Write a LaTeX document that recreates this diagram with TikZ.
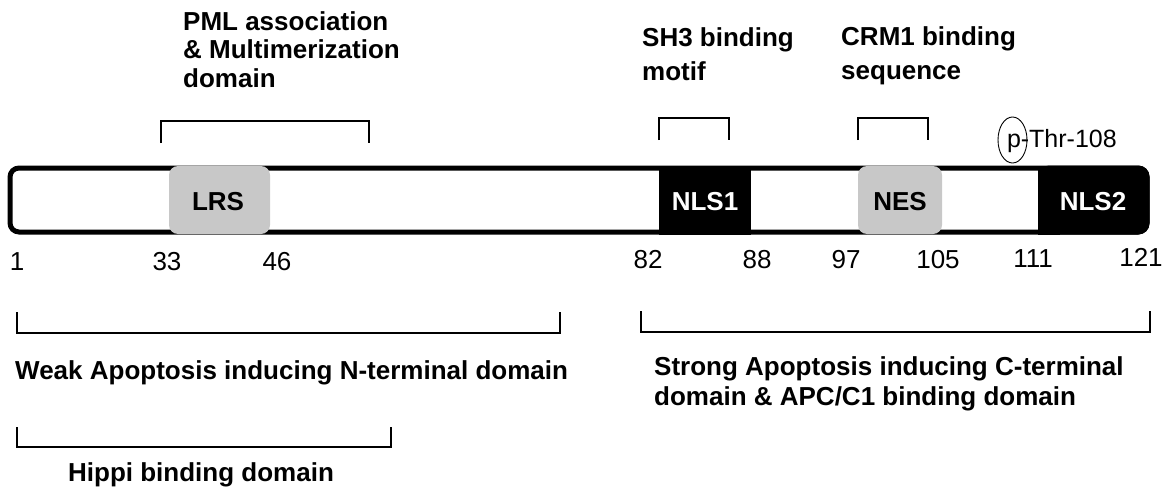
\documentclass[tikz,border=0pt]{standalone}
\usepackage{fontspec}
\setmainfont{Liberation Sans}
\usetikzlibrary{shapes.geometric}
\definecolor{boxgray}{HTML}{C8C8C8}
\tikzset{
  lbl/.style={font=\fontsize{26}{29}\selectfont\bfseries, inner sep=0pt},
  lblwide/.style={font=\fontsize{26}{34}\selectfont\bfseries, inner sep=0pt},
  lblmid/.style={font=\fontsize{26}{30}\selectfont\bfseries, inner sep=0pt},
  num/.style={font=\fontsize{26}{30}\selectfont, inner sep=0pt, anchor=base},
  thrtxt/.style={font=\fontsize{25}{30}\selectfont, inner sep=0pt},
  brk/.style={line width=1.8pt},
  dom/.style={font=\fontsize{26}{30}\selectfont\bfseries, inner sep=0pt, anchor=base},
}
\begin{document}
\begin{tikzpicture}[x=1pt,y=-1pt]
\useasboundingbox (0,0) rectangle (1170,495);
% top labels (base anchor = baseline of the last line)
\node[lbl, anchor=base west, align=left] (pml) at (183,88) {PML association\\\& Multimerization\\domain};
\node[lblwide, anchor=base west, align=left] (sh3) at (642,81) {SH3 binding\\motif};
\node[lblwide, anchor=base west, align=left] (crm) at (841,80) {CRM1 binding\\sequence};
% top brackets
\draw[brk] (161,143) -- (161,121) -- (369,121) -- (369,143);
\draw[brk] (659,140) -- (659,118) -- (729,118) -- (729,140);
\draw[brk] (858,140) -- (858,118) -- (928,118) -- (928,140);
% bar
\draw[line width=5pt, rounded corners=9pt, fill=white] (10,168) rectangle (1147,232);
% domains
\fill[boxgray, rounded corners=9pt] (169,166) rectangle (270,234);
\node[dom] (lrs) at (218,210) {LRS};
\fill[black] (659,165.5) rectangle (751,234.5);
\node[dom, text=white] (nls1) at (705,210) {NLS1};
\fill[boxgray, rounded corners=9pt] (858,166) rectangle (942,234);
\node[dom] (nes) at (900,210) {NES};
\fill[black, rounded corners=11pt] (1038,165.5) rectangle (1149.5,234.5);
\fill[black] (1038,165.5) rectangle (1060,234.5);
\node[dom, text=white] (nls2) at (1093,210) {NLS2};
% phospho
\draw[line width=0.9pt] (1012.5,140) ellipse [x radius=14.5, y radius=23];
\node[thrtxt, anchor=base] (p) at (1014,147) {p};
\node[thrtxt, anchor=base west] (thr) at ([xshift=-0.5pt]p.base east) {-Thr-108};
% numbers
\node[num] (n1) at (17,270) {1};
\node[num] (n33) at (167,270) {33};
\node[num] (n46) at (277,270) {46};
\node[num] (n82) at (648,268) {82};
\node[num] (n88) at (757,268) {88};
\node[num] (n97) at (846,268) {97};
\node[num] (n105) at (938,268) {105};
\node[num] (n111) at (1033,267) {111};
\node[num] (n121) at (1141,266) {121};
% lower brackets
\draw[brk] (17,312) -- (17,333) -- (560,333) -- (560,312);
\draw[brk] (641,311) -- (641,332) -- (1150,332) -- (1150,311);
\draw[brk] (17,427) -- (17,447) -- (391,447) -- (391,427);
% lower labels
\node[lbl, anchor=base west] (weak) at (15,379) {Weak Apoptosis inducing N-terminal domain};
\node[lblmid, anchor=base west, align=left] (strong) at (654,405) {Strong Apoptosis inducing C-terminal\\domain \& APC/C1 binding domain};
\node[lbl, anchor=base] (hippi) at (201,481) {Hippi binding domain};
\end{tikzpicture}
\end{document}
